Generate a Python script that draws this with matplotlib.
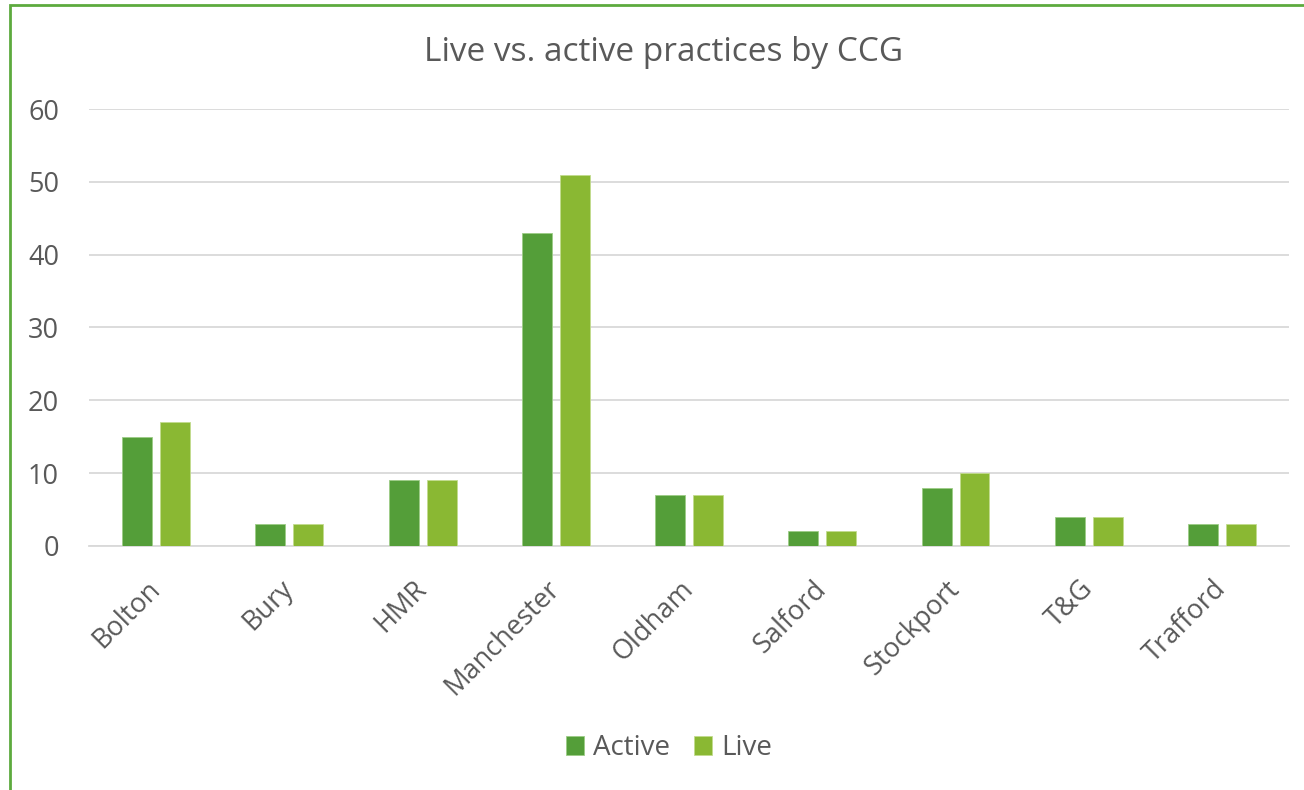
import matplotlib
matplotlib.use("Agg")
import matplotlib.pyplot as plt
import numpy as np
from matplotlib.patches import Rectangle

categories = ["Bolton", "Bury", "HMR", "Manchester", "Oldham", "Salford", "Stockport", "T&G", "Trafford"]
active = [15, 3, 9, 43, 7, 2, 8, 4, 3]
live = [17, 3, 9, 51, 7, 2, 10, 4, 3]
yticks = [0, 10, 20, 30, 40, 50, 60]

c_active = "#549E39"
c_live = "#8AB833"
txt = "#595959"
font = ["Open Sans", "DejaVu Sans"]

plt.rcParams["font.family"] = font

fig = plt.figure(figsize=(13.04, 7.90), dpi=100)
ax = fig.add_axes([0.0686, 0.3089, 0.9196, 0.5531])

x = np.arange(len(categories))
w = 0.225
off = 0.1425
ax.bar(x - off, active, width=w, color=c_active, edgecolor="#9ccc86", linewidth=0.6, label="Active", zorder=3)
ax.bar(x + off, live, width=w, color=c_live, edgecolor="#c2dc8e", linewidth=0.6, label="Live", zorder=3)

ax.set_xlim(-0.5, len(categories) - 0.5)
ax.set_ylim(0, 60)
ax.set_yticks(yticks)
ax.yaxis.grid(True, color="#D9D9D9", linewidth=1.3, zorder=0)
ax.set_axisbelow(True)
for s in ["top", "right", "left"]:
    ax.spines[s].set_visible(False)
ax.spines["bottom"].set_color("#D9D9D9")
ax.spines["bottom"].set_linewidth(1.3)
ax.tick_params(axis="both", length=0, colors=txt, labelsize=19.5)
ax.tick_params(axis="y", pad=22)
ax.set_xticks(x)
ax.set_xticklabels(categories, rotation=45, ha="right", va="center", rotation_mode="anchor")
ax.tick_params(axis="x", pad=28)

fig.text(0.509, 0.934, "Live vs. active practices by CCG", ha="center", va="center",
         fontsize=24, color=txt)

leg = fig.legend(loc="center", bbox_to_anchor=(0.513, 0.053), ncol=2, frameon=False,
                 fontsize=20, handlelength=0.65, handleheight=0.65, handletextpad=0.35,
                 columnspacing=0.83)
for t in leg.get_texts():
    t.set_color(txt)

fig.patches.append(Rectangle((10 / 1304, -0.1), 1.2, 1 - 5 / 790 + 0.1, transform=fig.transFigure,
                             fill=False, edgecolor="#5DAA3E", linewidth=2, zorder=10))

fig.savefig("out.png", dpi=100, facecolor="white")
